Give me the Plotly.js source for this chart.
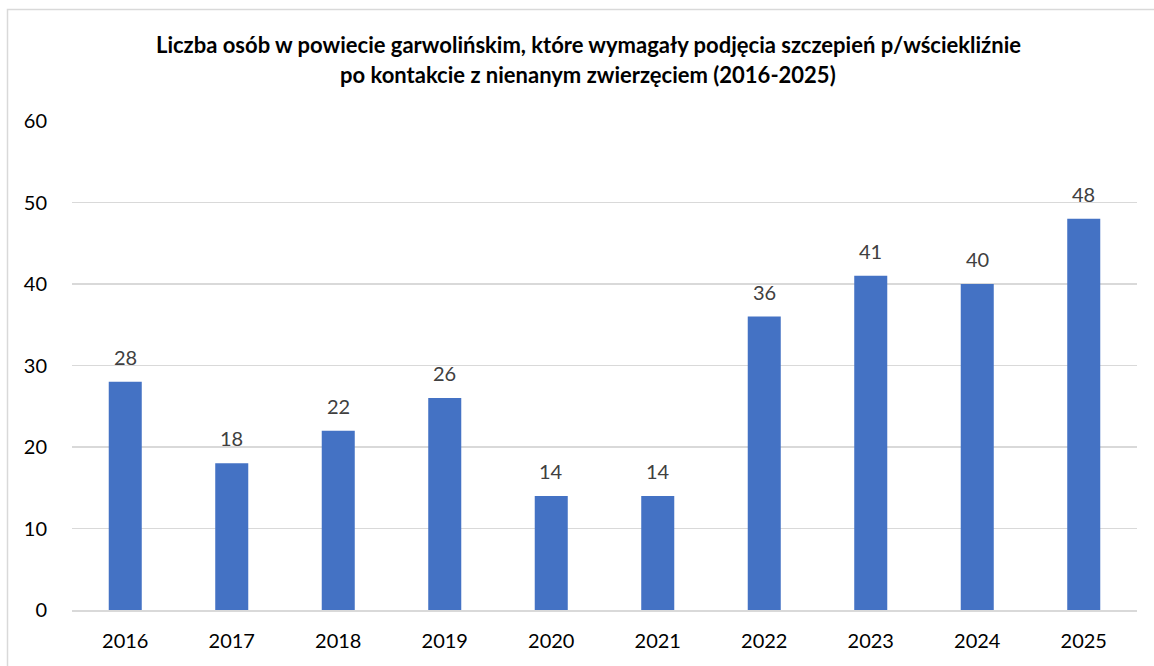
<!DOCTYPE html>
<html>
<head>
<meta charset="utf-8">
<script src="https://cdn.plot.ly/plotly-3.0.1.min.js"></script>
<style>
html,body{margin:0;padding:0;background:#fff;}
#chart{width:1154px;height:666px;}
</style>
</head>
<body>
<div id="chart"></div>
<script>
const years = ['2016','2017','2018','2019','2020','2021','2022','2023','2024','2025'];
const persons = [28, 18, 22, 26, 14, 14, 36, 41, 40, 48];
const titleLines = [
  'Liczba osób w powiecie garwolińskim, które wymagały podjęcia szczepień p/wściekliźnie',
  'po kontakcie z nienanym zwierzęciem (2016-2025)'
];

const FONT = 'Lato, Carlito, Calibri, "Open Sans", sans-serif';

const trace = {
  type: 'bar',
  x: years,
  y: persons,
  marker: {color: '#4472C4'},
  hoverinfo: 'x+y'
};

const labelAnns = years.map((yr, i) => ({
  x: i, y: persons[i], xref: 'x', yref: 'y',
  text: String(persons[i]),
  showarrow: false,
  yanchor: 'middle', yshift: 25,
  font: {family: FONT, size: 20, color: '#404040'}
}));

const titleAnns = titleLines.map((t, i) => ({
  x: (588 - 72) / 1065, xref: 'paper', y: 1, yref: 'paper',
  text: '<b>' + t + '</b>',
  showarrow: false,
  xanchor: 'center', yanchor: 'middle',
  yshift: 121 - 44 - i * 30,
  font: {family: FONT, size: 22, color: '#000'}
}));

const layout = {
  width: 1154, height: 666,
  margin: {l: 72, r: 17, t: 121, b: 56, pad: 0},
  paper_bgcolor: '#fff', plot_bgcolor: '#fff',
  bargap: 0.69,
  showlegend: false,
  font: {family: FONT, size: 20, color: '#000'},
  xaxis: {
    type: 'category',
    range: [-0.5, years.length - 0.5],
    autorange: false,
    showgrid: false, zeroline: false,
    showline: true, linecolor: '#d9d9d9', linewidth: 1.5,
    ticks: 'outside', ticklen: 12, tickcolor: 'rgba(0,0,0,0)',
    tickfont: {family: FONT, size: 20, color: '#000'}
  },
  yaxis: {
    range: [0, 60], autorange: false, dtick: 10, tick0: 0,
    showgrid: true, gridcolor: '#d9d9d9', gridwidth: 1.3,
    zeroline: false, showline: false,
    ticks: 'outside', ticklen: 20, tickcolor: 'rgba(0,0,0,0)',
    tickfont: {family: FONT, size: 20, color: '#000'}
  },
  annotations: titleAnns.concat(labelAnns),
  shapes: [{
    type: 'rect', xref: 'paper', yref: 'paper',
    x0: (7.5 - 72) / 1065, x1: (1170 - 72) / 1065,
    y0: (610 - 680) / 489, y1: (610 - 9.5) / 489,
    line: {color: '#d9d9d9', width: 1.5}, fillcolor: 'rgba(0,0,0,0)',
    layer: 'below'
  }]
};

Plotly.newPlot('chart', [trace], layout, {displayModeBar: false, staticPlot: true});
</script>
</body>
</html>
